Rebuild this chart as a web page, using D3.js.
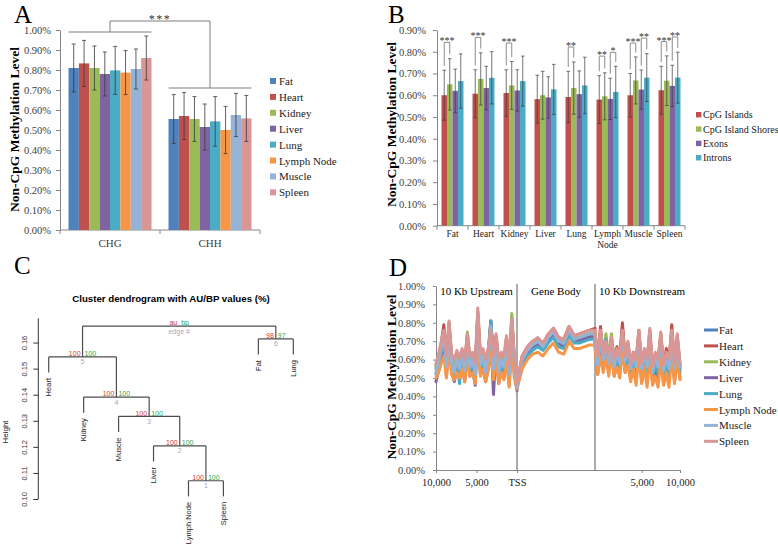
<!DOCTYPE html>
<html><head><meta charset="utf-8">
<script src="https://cdn.jsdelivr.net/npm/d3@7"></script>
<style>body{margin:0;background:#fff}svg{display:block}</style>
</head><body><svg id="c" width="778" height="550"></svg>
<script>
// ================= DATA =================
// Panel A
const tissues = ["Fat","Heart","Kidney","Liver","Lung","Lymph Node","Muscle","Spleen"];
const tissueColors = ["#4F81BD","#C0504D","#9BBB59","#8064A2","#4BACC6","#F79646","#95B3D7","#D99694"];
const contexts = ["CHG","CHH"];
const chgMean = [0.810,0.833,0.810,0.780,0.798,0.787,0.805,0.860];
const chgErr  = [0.120,0.115,0.110,0.110,0.120,0.110,0.100,0.110];
const chhMean = [0.555,0.570,0.555,0.515,0.543,0.500,0.575,0.558];
const chhErr  = [0.122,0.118,0.112,0.115,0.124,0.118,0.108,0.115];
const aTicks  = [0,0.1,0.2,0.3,0.4,0.5,0.6,0.7,0.8,0.9,1.0];
const aSigLabel = "***", aSigTop = 1.045, aSigLeft = 0.99, aSigRight = 0.71;

// Panel B
const regions  = ["Fat","Heart","Kidney","Liver","Lung","Lymph Node","Muscle","Spleen"];
const features = ["CpG Islands","CpG Island Shores","Exons","Introns"];
const featureColors = ["#C0504D","#9BBB59","#8064A2","#4BACC6"];
const islandsMean = [0.600,0.607,0.610,0.582,0.592,0.580,0.600,0.623];
const islandsErr  = [0.115,0.110,0.107,0.110,0.118,0.110,0.100,0.110];
const shoresMean  = [0.650,0.675,0.645,0.600,0.633,0.595,0.668,0.667];
const shoresErr   = [0.118,0.120,0.110,0.110,0.120,0.108,0.108,0.114];
const exonsMean   = [0.620,0.633,0.622,0.590,0.605,0.583,0.626,0.643];
const exonsErr    = [0.100,0.100,0.095,0.095,0.107,0.095,0.090,0.095];
const intronsMean = [0.665,0.680,0.665,0.627,0.645,0.615,0.681,0.681];
const intronsErr  = [0.125,0.120,0.115,0.115,0.130,0.118,0.110,0.117];
const bTicks = [0,0.1,0.2,0.3,0.4,0.5,0.6,0.7,0.8,0.9];
const sigRegion = ["Fat","Heart","Kidney","Lung","Lymph Node","Lymph Node","Muscle","Muscle","Spleen","Spleen"];
const sigFrom   = [0,0,0,0,0,2,0,2,0,2];
const sigTo     = [1,1,1,1,1,3,1,3,1,3];
const sigLabel  = ["***","***","***","**","**","*","***","**","***","**"];
const sigTop    = [0.843,0.866,0.840,0.822,0.780,0.797,0.840,0.863,0.847,0.868];

// Panel C (hclust-style merges: negative = leaf (1-based), positive = earlier merge)
const leafNames   = ["Heart","Kidney","Muscle","Liver","Lymph.Node","Spleen","Fat","Lung"];
const mergeA      = [-5,-4,-3,-2,-1,-7,5];
const mergeB      = [-6, 1, 2, 3, 4,-8,6];
const mergeHeight = [0.1070,0.1204,0.1317,0.1391,0.1545,0.1614,0.1663];
const auValues    = ["100","100","100","100","100","98","au"];
const bpValues    = ["100","100","100","100","100","97","bp"];
const edgeIds     = ["1","2","3","4","5","6","edge #"];
const heightTicks = [0.10,0.11,0.12,0.13,0.14,0.15,0.16];
const heightTop   = 0.1693;
const leafHang    = 0.006;

// Panel D: 32 upstream bins, 16 gene-body bins, 32 downstream bins
const upBins = 32, geneBins = 16, downBins = 32;
const profileFat = [0.55,0.60,0.67,0.73,0.58,0.78,0.59,0.55,0.61,0.57,0.63,0.55,0.71,0.58,0.61,0.53,0.84,0.59,0.63,0.55,0.63,0.81,0.58,0.72,0.55,0.61,0.58,0.70,0.53,0.80,0.58,0.45,
  0.46,0.59,0.64,0.67,0.69,0.67,0.71,0.74,0.69,0.69,0.75,0.71,0.71,0.72,0.73,0.73,
  0.72,0.58,0.74,0.60,0.72,0.58,0.71,0.56,0.64,0.57,0.77,0.58,0.66,0.54,0.62,0.55,0.73,0.54,0.62,0.55,0.73,0.52,0.60,0.55,0.71,0.53,0.61,0.54,0.74,0.54,0.70,0.55];
const profileHeart = [0.57,0.62,0.69,0.79,0.60,0.80,0.61,0.57,0.63,0.59,0.65,0.57,0.73,0.60,0.63,0.55,0.86,0.61,0.65,0.57,0.65,0.81,0.60,0.73,0.57,0.63,0.60,0.72,0.55,0.83,0.60,0.46,
  0.47,0.62,0.67,0.70,0.71,0.69,0.73,0.77,0.72,0.71,0.78,0.73,0.74,0.75,0.76,0.77,
  0.75,0.61,0.78,0.62,0.70,0.61,0.72,0.59,0.67,0.61,0.80,0.61,0.69,0.57,0.64,0.59,0.76,0.57,0.65,0.59,0.76,0.55,0.63,0.59,0.74,0.56,0.66,0.59,0.79,0.57,0.73,0.57];
const profileKidney = [0.56,0.61,0.68,0.74,0.59,0.78,0.60,0.56,0.62,0.58,0.64,0.56,0.75,0.59,0.62,0.54,0.85,0.60,0.64,0.56,0.64,0.79,0.59,0.72,0.56,0.62,0.59,0.72,0.54,0.85,0.59,0.46,
  0.46,0.60,0.65,0.68,0.70,0.68,0.72,0.75,0.70,0.70,0.76,0.72,0.72,0.73,0.74,0.74,
  0.73,0.60,0.75,0.63,0.74,0.60,0.74,0.58,0.65,0.60,0.75,0.60,0.68,0.56,0.63,0.58,0.74,0.56,0.64,0.58,0.74,0.54,0.62,0.58,0.73,0.55,0.63,0.57,0.75,0.56,0.72,0.56];
const profileLiver = [0.48,0.54,0.61,0.68,0.51,0.73,0.53,0.48,0.55,0.51,0.57,0.48,0.66,0.51,0.55,0.46,0.78,0.52,0.57,0.48,0.56,0.74,0.41,0.66,0.47,0.55,0.50,0.65,0.46,0.77,0.52,0.43,
  0.45,0.58,0.63,0.66,0.68,0.66,0.70,0.73,0.68,0.67,0.74,0.70,0.70,0.71,0.72,0.72,
  0.68,0.52,0.68,0.55,0.66,0.53,0.66,0.51,0.59,0.52,0.70,0.53,0.61,0.50,0.57,0.49,0.68,0.48,0.56,0.49,0.67,0.47,0.54,0.49,0.65,0.47,0.55,0.48,0.68,0.48,0.64,0.50];
const profileLung = [0.52,0.58,0.64,0.71,0.54,0.76,0.56,0.51,0.58,0.47,0.60,0.51,0.70,0.54,0.58,0.50,0.82,0.55,0.60,0.51,0.61,0.81,0.52,0.69,0.50,0.58,0.53,0.68,0.49,0.79,0.55,0.44,
  0.45,0.58,0.62,0.65,0.67,0.65,0.69,0.72,0.67,0.66,0.73,0.69,0.69,0.70,0.71,0.71,
  0.70,0.55,0.74,0.58,0.71,0.55,0.70,0.54,0.62,0.55,0.74,0.56,0.64,0.52,0.60,0.52,0.72,0.51,0.60,0.52,0.70,0.49,0.58,0.52,0.69,0.49,0.58,0.51,0.71,0.50,0.68,0.53];
const profileLymph = [0.50,0.53,0.58,0.62,0.50,0.66,0.52,0.49,0.53,0.50,0.55,0.48,0.60,0.51,0.53,0.47,0.72,0.51,0.55,0.48,0.54,0.64,0.49,0.60,0.47,0.53,0.49,0.60,0.45,0.66,0.50,0.44,
  0.44,0.55,0.60,0.63,0.64,0.62,0.66,0.69,0.64,0.63,0.70,0.66,0.66,0.67,0.68,0.68,
  0.66,0.52,0.62,0.53,0.62,0.51,0.63,0.51,0.56,0.50,0.65,0.53,0.57,0.48,0.55,0.46,0.64,0.47,0.56,0.45,0.62,0.46,0.51,0.45,0.60,0.46,0.53,0.45,0.63,0.47,0.60,0.49];
const profileMuscle = [0.53,0.59,0.66,0.73,0.56,0.78,0.58,0.53,0.60,0.55,0.62,0.54,0.72,0.56,0.60,0.52,0.84,0.57,0.62,0.53,0.62,0.78,0.55,0.71,0.53,0.60,0.56,0.70,0.52,0.81,0.57,0.45,
  0.46,0.60,0.65,0.68,0.70,0.67,0.72,0.75,0.70,0.69,0.76,0.71,0.72,0.73,0.74,0.74,
  0.71,0.57,0.73,0.60,0.69,0.58,0.70,0.56,0.64,0.58,0.74,0.59,0.67,0.55,0.63,0.56,0.73,0.55,0.63,0.56,0.73,0.53,0.61,0.56,0.72,0.54,0.62,0.55,0.73,0.55,0.70,0.56];
const profileSpleen = [0.58,0.63,0.70,0.76,0.62,0.81,0.63,0.60,0.65,0.61,0.66,0.60,0.74,0.62,0.64,0.58,0.88,0.63,0.66,0.60,0.66,0.76,0.62,0.74,0.60,0.64,0.62,0.73,0.57,0.82,0.62,0.47,
  0.47,0.62,0.67,0.70,0.72,0.69,0.74,0.77,0.72,0.71,0.78,0.73,0.74,0.75,0.76,0.76,
  0.74,0.62,0.76,0.63,0.70,0.62,0.72,0.60,0.66,0.62,0.76,0.62,0.70,0.58,0.64,0.60,0.76,0.58,0.66,0.60,0.77,0.56,0.64,0.60,0.75,0.57,0.64,0.60,0.76,0.58,0.74,0.58];
const dTicks = [0,0.1,0.2,0.3,0.4,0.5,0.6,0.7,0.8,0.9,1.0];
const dXTickPos = [0,0.5,1,2.55,3];
const dXTickLabels = ["10,000","5,000","TSS","5,000","10,000"];
const dRegionLabels = ["10 Kb Upstream","Gene Body","10 Kb Downstream"];

// ================= DRAWING =================
const svg = d3.select("#c");
const serif = '"Liberation Serif","Times New Roman",serif';
const sans = '"Liberation Sans",Arial,sans-serif';
const axisGray = "#868686", labelGray = "#404040";

function styleAxis(g, fs, fam, col){
  g.attr("font-family", null).attr("font-size", null);
  g.select(".domain").attr("stroke", col || axisGray);
  g.selectAll(".tick line").attr("stroke", col || axisGray);
  g.selectAll(".tick text").attr("fill", labelGray).style("font-size", fs + "px").style("font-family", fam);
}
function vTitle(x, y, t){
  svg.append("text").attr("transform", `translate(${x},${y}) rotate(-90)`)
    .attr("text-anchor","middle").attr("dy","0.35em")
    .style("font-family", serif).style("font-weight","bold").style("font-size","13.5px").text(t);
}
function letter(t, x, y){
  svg.append("text").attr("x", x).attr("y", y).style("font-family", serif).style("font-size","25px").text(t);
}
letter("A",14,23); letter("B",388,23); letter("C",14,274); letter("D",389,276);

// ---------- Panel A ----------
{
  const g = svg.append("g");
  const x = d3.scaleBand().domain(contexts).range([60,260]).paddingInner(0.17).paddingOuter(0.085);
  const xi = d3.scaleBand().domain(tissues).range([0, x.bandwidth()]);
  const y = d3.scaleLinear().domain([0,1]).range([230,30]);
  const ya = g.append("g").attr("transform","translate(60,0)")
    .call(d3.axisLeft(y).tickValues(aTicks).tickSize(4).tickSizeOuter(0).tickPadding(5).tickFormat(d => d.toFixed(2) + "%"));
  styleAxis(ya, 10.5, serif);
  const xa = g.append("g").attr("transform","translate(0,230)")
    .call(d3.axisBottom(x).tickSize(0).tickPadding(9).tickSizeOuter(0));
  styleAxis(xa, 11, serif);
  xa.select(".domain").attr("d", `M60,0H260`);
  d3.range(contexts.length + 1).forEach(i => {
    const bx = x.range()[0] + i * x.step();
    xa.append("line").attr("x1", bx).attr("x2", bx).attr("y1", 0).attr("y2", 4).attr("stroke", axisGray);
  });
  const rows = [];
  contexts.forEach((c, ci) => tissues.forEach((t, ti) => rows.push({c, t, ti,
    m: ci ? chhMean[ti] : chgMean[ti], e: ci ? chhErr[ti] : chgErr[ti]})));
  g.selectAll("rect.bar").data(rows).join("rect").attr("class","bar")
    .attr("x", d => x(d.c) + xi(d.t)).attr("width", xi.bandwidth())
    .attr("y", d => y(d.m)).attr("height", d => y(0) - y(d.m)).attr("fill", d => tissueColors[d.ti]);
  const eb = g.selectAll("g.err").data(rows).join("g").attr("class","err")
    .attr("stroke","#3a3a3a").attr("stroke-width",0.8);
  const cx = d => x(d.c) + xi(d.t) + xi.bandwidth() / 2;
  eb.append("line").attr("x1", cx).attr("x2", cx).attr("y1", d => y(d.m + d.e)).attr("y2", d => y(d.m - d.e));
  eb.append("line").attr("x1", d => cx(d) - 2).attr("x2", d => cx(d) + 2).attr("y1", d => y(d.m + d.e)).attr("y2", d => y(d.m + d.e));
  eb.append("line").attr("x1", d => cx(d) - 2).attr("x2", d => cx(d) + 2).attr("y1", d => y(d.m - d.e)).attr("y2", d => y(d.m - d.e));
  // significance bracket
  const c0 = x("CHG") + x.bandwidth() / 2, c1 = x("CHH") + x.bandwidth() / 2;
  const br = g.append("g").attr("stroke","#7f7f7f").attr("stroke-width",1).attr("fill","none");
  br.append("path").attr("d", `M${x("CHG")},${y(aSigLeft)}H${x("CHG") + x.bandwidth()}M${c0},${y(aSigLeft)}V${y(aSigTop)}H${c1}V${y(aSigRight)}M${x("CHH")},${y(aSigRight)}H${x("CHH") + x.bandwidth()}`);
  g.append("text").attr("x", (c0 + c1) / 2).attr("y", y(aSigTop) + 2).attr("text-anchor","middle")
    .style("font-family", serif).style("font-size","12px").style("letter-spacing","1.5px").attr("fill","#333").text(aSigLabel);
  // legend
  const lg = g.selectAll("g.leg").data(tissues).join("g").attr("class","leg")
    .attr("transform", (d, i) => `translate(270,${81 + i * 15.9})`);
  lg.append("rect").attr("x",0).attr("y",-3).attr("width",6).attr("height",6).attr("fill", (d, i) => tissueColors[i]);
  lg.append("text").attr("x",9).attr("y",4).style("font-family", serif).style("font-size","11px").attr("fill","#222").text(d => d);
  vTitle(14, 129.5, "Non-CpG Methylation Level");
}

// ---------- Panel B ----------
{
  const g = svg.append("g");
  const x = d3.scaleBand().domain(regions).range([437,685]).paddingInner(0.29).paddingOuter(0.145);
  const xi = d3.scaleBand().domain(features).range([0, x.bandwidth()]);
  const y = d3.scaleLinear().domain([0,0.9]).range([225.7,30]);
  const ya = g.append("g").attr("transform","translate(437,0)")
    .call(d3.axisLeft(y).tickValues(bTicks).tickSize(4).tickSizeOuter(0).tickPadding(7).tickFormat(d => d.toFixed(2) + "%"));
  styleAxis(ya, 10.5, serif);
  const xa = g.append("g").attr("transform",`translate(0,${y(0)})`);
  xa.append("line").attr("x1",437).attr("x2",685).attr("stroke",axisGray);
  d3.range(regions.length + 1).forEach(i => {
    const bx = x.range()[0] + i * x.step();
    xa.append("line").attr("x1", bx).attr("x2", bx).attr("y1", 0).attr("y2", 4).attr("stroke", axisGray);
  });
  regions.forEach(r => {
    const parts = r.split(" ");
    parts.forEach((p, k) => xa.append("text").attr("x", x(r) + x.bandwidth() / 2).attr("y", 11.5 + k * 10.5)
      .attr("text-anchor","middle").style("font-family", serif).style("font-size","9.5px").attr("fill","#222").text(p));
  });
  const means = [islandsMean, shoresMean, exonsMean, intronsMean];
  const errs = [islandsErr, shoresErr, exonsErr, intronsErr];
  const rows = [];
  regions.forEach((r, ri) => features.forEach((f, fi) => rows.push({r, f, fi, m: means[fi][ri], e: errs[fi][ri]})));
  g.selectAll("rect.bar").data(rows).join("rect").attr("class","bar")
    .attr("x", d => x(d.r) + xi(d.f)).attr("width", xi.bandwidth())
    .attr("y", d => y(d.m)).attr("height", d => y(0) - y(d.m)).attr("fill", d => featureColors[d.fi]);
  const cx = d => x(d.r) + xi(d.f) + xi.bandwidth() / 2;
  const eb = g.selectAll("g.err").data(rows).join("g").attr("class","err").attr("stroke","#3a3a3a").attr("stroke-width",0.7);
  eb.append("line").attr("x1", cx).attr("x2", cx).attr("y1", d => y(d.m + d.e)).attr("y2", d => y(d.m - d.e));
  eb.append("line").attr("x1", d => cx(d) - 1.8).attr("x2", d => cx(d) + 1.8).attr("y1", d => y(d.m + d.e)).attr("y2", d => y(d.m + d.e));
  eb.append("line").attr("x1", d => cx(d) - 1.8).attr("x2", d => cx(d) + 1.8).attr("y1", d => y(d.m - d.e)).attr("y2", d => y(d.m - d.e));
  // significance brackets
  sigRegion.forEach((r, k) => {
    const ri = regions.indexOf(r);
    const fa = sigFrom[k], fb = sigTo[k];
    const xa1 = x(r) + xi(features[fa]) + xi.bandwidth() / 2;
    const xb1 = x(r) + xi(features[fb]) + xi.bandwidth() / 2;
    const ya1 = y(means[fa][ri] + errs[fa][ri] + 0.02);
    const yb1 = y(means[fb][ri] + errs[fb][ri] + 0.02);
    const yt = y(sigTop[k]);
    g.append("path").attr("d", `M${xa1},${ya1}V${yt}H${xb1}V${yb1}`).attr("fill","none").attr("stroke","#7f7f7f").attr("stroke-width",0.9);
    g.append("text").attr("x", (xa1 + xb1) / 2).attr("y", yt + 2).attr("text-anchor","middle")
      .style("font-family", serif).style("font-size","10px").attr("fill","#333").text(sigLabel[k]);
  });
  const lg = g.selectAll("g.leg").data(features).join("g").attr("class","leg")
    .attr("transform", (d, i) => `translate(696,${114.7 + i * 14.35})`);
  lg.append("rect").attr("x",0).attr("y",-2.7).attr("width",5.4).attr("height",5.4).attr("fill", (d, i) => featureColors[i]);
  lg.append("text").attr("x",7).attr("y",3.6).style("font-family", serif).style("font-size","10px").attr("fill","#222").text(d => d);
  vTitle(391, 124.5, "Non-CpG Methylation Level");
}

// ---------- Panel C ----------
{
  const g = svg.append("g");
  const x = d3.scalePoint().domain(leafNames).range([48.7, 293.3]);
  const y = d3.scaleLinear().domain([0.10, heightTop]).range([499, 318.3]);
  g.append("text").attr("x",171).attr("y",301.5).attr("text-anchor","middle")
    .style("font-family", sans).style("font-weight","bold").style("font-size","9.7px").text("Cluster dendrogram with AU/BP values (%)");
  const ya = g.append("g").attr("transform","translate(38.3,0)")
    .call(d3.axisLeft(y).tickValues(heightTicks).tickSize(5).tickFormat(d3.format(".2f")));
  ya.attr("font-family", null).attr("font-size", null);
  ya.selectAll("path,line").attr("stroke","#333");
  ya.select(".domain").attr("d", `M0,${y(0.10)}V${y(heightTop)}`);
  ya.selectAll(".tick text").attr("transform","rotate(-90)").attr("x",0).attr("y",-11.5).attr("dy",0)
    .attr("text-anchor","middle").attr("fill","#333").style("font-family", sans).style("font-size","7.5px");
  g.append("text").attr("transform","translate(8,432) rotate(-90)").attr("text-anchor","middle")
    .style("font-family", sans).style("font-size","8px").attr("fill","#222").text("Height");
  // node positions
  const nodeX = [], nodeH = mergeHeight;
  const childX = c => c < 0 ? x(leafNames[-c - 1]) : nodeX[c - 1];
  mergeA.forEach((a, k) => { nodeX[k] = (childX(a) + childX(mergeB[k])) / 2; });
  const lines = g.append("g").attr("stroke","#4d4d4d").attr("stroke-width",1.2).attr("fill","none");
  mergeA.forEach((a, k) => {
    const b = mergeB[k];
    [a, b].forEach(c => {
      const cxp = childX(c);
      const bottom = c < 0 ? nodeH[k] - leafHang : nodeH[c - 1];
      lines.append("path").attr("d", `M${cxp},${y(bottom)}V${y(nodeH[k])}`);
      if (c < 0) {
        g.append("text").attr("transform", `translate(${cxp},${y(bottom) + 5.5}) rotate(-90)`)
          .attr("text-anchor","end").attr("dy","0.35em").style("font-family", sans).style("font-size","7.5px").attr("fill","#222")
          .text(leafNames[-c - 1]);
      }
    });
    lines.append("path").attr("d", `M${childX(a)},${y(nodeH[k])}H${childX(b)}`);
    g.append("text").attr("x", nodeX[k] - 2).attr("y", y(nodeH[k]) - 0.8).attr("text-anchor","end")
      .style("font-family", sans).style("font-size","7px").attr("fill","#d23c3c").text(auValues[k]);
    g.append("text").attr("x", nodeX[k] + 2).attr("y", y(nodeH[k]) - 0.8).attr("text-anchor","start")
      .style("font-family", sans).style("font-size","7px").attr("fill","#2ea84e").text(bpValues[k]);
    g.append("text").attr("x", nodeX[k]).attr("y", y(nodeH[k]) + 7.5).attr("text-anchor","middle")
      .style("font-family", sans).style("font-size","7px").attr("fill","#a7a7bd").text(edgeIds[k]);
  });
}

// ---------- Panel D ----------
{
  const g = svg.append("g");
  const x = d3.scaleLinear().domain([0,1,2,3]).range([436,517,595,680]);
  const y = d3.scaleLinear().domain([0,1]).range([470,286]);
  const ya = g.append("g").attr("transform","translate(436,0)")
    .call(d3.axisLeft(y).tickValues(dTicks).tickSize(3).tickSizeOuter(0).tickPadding(8).tickFormat(d => d.toFixed(2) + "%"));
  styleAxis(ya, 10.5, serif);
  const xa = g.append("g").attr("transform","translate(0,470)")
    .call(d3.axisBottom(x).tickValues(dXTickPos).tickSize(3).tickSizeOuter(0).tickPadding(6).tickFormat((d, i) => dXTickLabels[i]));
  styleAxis(xa, 10.5, serif);
  xa.selectAll(".tick text").attr("fill","#222");
  // region separators
  [1, 2].forEach(p => g.append("line").attr("x1", x(p)).attr("x2", x(p)).attr("y1", 284).attr("y2", 470)
    .attr("stroke","#595959").attr("stroke-width",1));
  // region labels
  g.append("text").attr("x", (x(0) + x(1)) / 2).attr("y", 295).attr("text-anchor","middle")
    .style("font-family", serif).style("font-size","11px").text(dRegionLabels[0]);
  g.append("text").attr("x", (x(1) + x(2)) / 2).attr("y", 295).attr("text-anchor","middle")
    .style("font-family", serif).style("font-size","11px").text(dRegionLabels[1]);
  g.append("text").attr("x", x(2) + 4).attr("y", 295).attr("text-anchor","start")
    .style("font-family", serif).style("font-size","11px").text(dRegionLabels[2]);
  const profiles = [profileFat, profileHeart, profileKidney, profileLiver, profileLung, profileLymph, profileMuscle, profileSpleen];
  const pos = i => i < upBins ? i / (upBins - 1)
    : i < upBins + geneBins ? 1 + (i - upBins) / (geneBins - 1)
    : 2 + (i - upBins - geneBins) / (downBins - 1);
  const line = d3.line().x((v, i) => x(pos(i))).y(v => y(v));
  g.selectAll("path.prof").data(profiles).join("path").attr("class","prof")
    .attr("d", line).attr("fill","none").attr("stroke", (d, i) => tissueColors[i])
    .attr("stroke-width",3).attr("stroke-linejoin","round").attr("stroke-linecap","round");
  const lg = g.selectAll("g.leg").data(tissues).join("g").attr("class","leg")
    .attr("transform", (d, i) => `translate(704,${330 + i * 15.9})`);
  lg.append("line").attr("x1",0).attr("x2",14).attr("stroke", (d, i) => tissueColors[i]).attr("stroke-width",3);
  lg.append("text").attr("x",15).attr("y",4).style("font-family", serif).style("font-size","11px").attr("fill","#222").text(d => d);
  vTitle(391, 377, "Non-CpG Methylation Level");
}
</script>
</body></html>
